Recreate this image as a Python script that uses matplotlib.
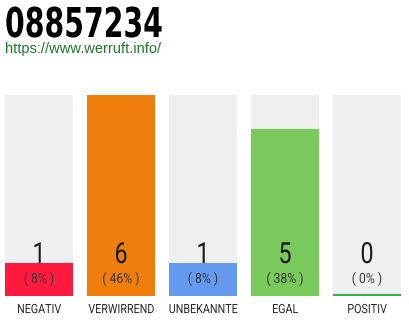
import matplotlib
matplotlib.use("Agg")
import matplotlib.pyplot as plt
from matplotlib.patheffects import AbstractPathEffect
from matplotlib.transforms import Affine2D

# Vote tallies per category
categories = ["NEGATIV", "VERWIRREND", "UNBEKANNTE", "EGAL", "POSITIV"]
counts = [1, 6, 1, 5, 0]
percents = ["( 8% )", "( 46% )", "( 8% )", "( 38% )", "( 0% )"]
colors = ["#fe1a3e", "#f07e0d", "#6499ee", "#7ac95c", "#2eb34a"]
title = "08857234"
url = "https://www.werruft.info/"


class Narrow(AbstractPathEffect):
    """Squeeze glyph outlines horizontally about a fixed pixel column."""

    def __init__(self, sx, x0):
        super().__init__()
        self.sx = sx
        self.x0 = x0

    def draw_path(self, renderer, gc, tpath, affine, rgbFace=None):
        t = affine + Affine2D().translate(-self.x0, 0).scale(self.sx, 1).translate(self.x0, 0)
        renderer.draw_path(gc, tpath, t, rgbFace)


W, H = 410, 320
DPI = 100
fig = plt.figure(figsize=(W / DPI, H / DPI), dpi=DPI)
fig.patch.set_facecolor("white")

face = ["Roboto", "DejaVu Sans"]

# plot area in pixels: x 5..401, y 95..296
left, right, top, bottom = 5, 401, 95, 296
ax = fig.add_axes([left / W, 1 - bottom / H, (right - left) / W, (bottom - top) / H])
bw = 68 / 82
ymax = max(counts)
ax.set_xlim(-bw / 2, len(categories) - 1 + bw / 2)
ax.set_ylim(0, ymax)
ax.axis("off")

xs = list(range(len(categories)))
ax.bar(xs, [ymax] * len(xs), width=bw, color="#efefef", zorder=1)
for x, c, col in zip(xs, counts, colors):
    if c > 0:
        ax.bar(x, c, width=bw, color=col, zorder=2)
    else:
        ax.bar(x, ymax * 0.008, width=bw, color=col, zorder=2)

for x, c, p, cat in zip(xs, counts, percents, categories):
    cx = ax.transData.transform((x, 0))[0]
    ax.text(x, 0.985, str(c), ha="center", va="baseline", fontsize=21,
            family=face, color="#1a1a1a", zorder=3,
            path_effects=[Narrow(0.8, cx)])
    ax.text(x, 0.39, p, ha="center", va="baseline", fontsize=10,
            family=face, color="#3a3a3a", zorder=3,
            path_effects=[Narrow(0.88, cx)])
    ax.text(x, -0.51, cat, ha="center", va="baseline", fontsize=9.2,
            family=face, color="#2a2a2a", zorder=3, clip_on=False,
            path_effects=[Narrow(0.84, cx)])

fig.text(5 / W, 1 - 37 / H, title, ha="left", va="baseline", fontsize=29.6,
         family=["DejaVu Sans"], fontweight="bold", color="#000000",
         path_effects=[Narrow(0.69, 5)])
fig.text(5 / W, 1 - 53 / H, url, ha="left", va="baseline", fontsize=10.5,
         family=["Liberation Sans", "DejaVu Sans"], color="#1e7a2e")

fig.savefig("out.png", dpi=DPI, facecolor="white")
